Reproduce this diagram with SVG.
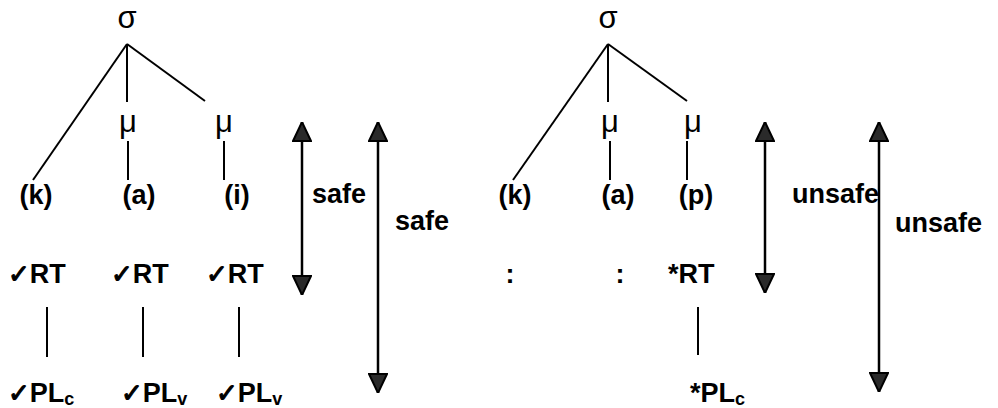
<svg xmlns="http://www.w3.org/2000/svg" width="998" height="408" viewBox="0 0 998 408">
<style>
  .t { font-family: "Liberation Sans", "DejaVu Sans", Arial, sans-serif; font-size: 27px; font-weight: bold; fill: #000; }
  .g { font-family: "Liberation Sans", "DejaVu Sans", Arial, sans-serif; font-size: 31px; font-weight: normal; fill: #000; }
  .c { font-family: "DejaVu Sans", sans-serif; font-size: 26px; font-weight: bold; stroke: #000; stroke-width: 1.2; }
  .sub { font-size: 18px; }
  .m { text-anchor: middle; }
  .ln { stroke: #000; stroke-width: 2; fill: none; }
  .ar { stroke: #000; stroke-width: 2.5; fill: none; marker-start: url(#tri); marker-end: url(#tri); }
</style>
<defs>
  <marker id="tri" viewBox="0 0 20 20" refX="20" refY="10" markerWidth="20" markerHeight="20" markerUnits="userSpaceOnUse" orient="auto-start-reverse">
    <path d="M1,1 L20,10 L1,19 Z" fill="#2a2a2a" stroke="#000" stroke-width="2"/>
  </marker>
</defs>
<rect width="998" height="408" fill="#fff"/>

<g id="connectors">
  <line class="ln" x1="127" y1="44" x2="33" y2="180"/>
  <line class="ln" x1="127" y1="44" x2="127" y2="102"/>
  <line class="ln" x1="127" y1="44" x2="205" y2="101"/>
  <line class="ln" x1="128" y1="141" x2="128" y2="180"/>
  <line class="ln" x1="224" y1="141" x2="224" y2="180"/>
  <line class="ln" x1="47" y1="307" x2="47" y2="357"/>
  <line class="ln" x1="143" y1="307" x2="143" y2="357"/>
  <line class="ln" x1="239" y1="307" x2="239" y2="357"/>
  <line class="ar" x1="302" y1="122" x2="302" y2="295"/>
  <line class="ar" x1="378" y1="122" x2="378" y2="393"/>

  <line class="ln" x1="608" y1="44" x2="513" y2="180"/>
  <line class="ln" x1="608" y1="44" x2="608" y2="102"/>
  <line class="ln" x1="608" y1="44" x2="687" y2="101"/>
  <line class="ln" x1="610" y1="141" x2="610" y2="180"/>
  <line class="ln" x1="687" y1="141" x2="687" y2="180"/>
  <line class="ln" x1="698" y1="307" x2="698" y2="355"/>
  <line class="ar" x1="765" y1="122" x2="765" y2="293"/>
  <line class="ar" x1="879" y1="122" x2="879" y2="392"/>
</g>

<g id="left-sigma"><text class="g m" x="127" y="28">σ</text></g>
<g id="left-mu1"><text class="g m" x="128" y="132">μ</text></g>
<g id="left-mu2"><text class="g m" x="224" y="132">μ</text></g>
<g id="left-k"><text class="t m" x="36" y="204">(k)</text></g>
<g id="left-a"><text class="t m" x="139" y="204">(a)</text></g>
<g id="left-i"><text class="t m" x="237" y="204">(i)</text></g>
<g id="left-rt1"><text class="t" x="8" y="283"><tspan class="c">✓</tspan>RT</text></g>
<g id="left-rt2"><text class="t" x="111" y="283"><tspan class="c">✓</tspan>RT</text></g>
<g id="left-rt3"><text class="t" x="206" y="283"><tspan class="c">✓</tspan>RT</text></g>
<g id="left-pl1"><text class="t" x="8" y="402"><tspan class="c">✓</tspan>PL<tspan class="sub" dy="3">c</tspan></text></g>
<g id="left-pl2"><text class="t" x="121" y="402"><tspan class="c">✓</tspan>PL<tspan class="sub" dy="3">v</tspan></text></g>
<g id="left-pl3"><text class="t" x="216" y="402"><tspan class="c">✓</tspan>PL<tspan class="sub" dy="3">v</tspan></text></g>
<g id="left-safe1"><text class="t" x="312" y="203">safe</text></g>
<g id="left-safe2"><text class="t" x="395" y="230">safe</text></g>

<g id="right-sigma"><text class="g m" x="608" y="28">σ</text></g>
<g id="right-mu1"><text class="g m" x="610" y="132">μ</text></g>
<g id="right-mu2"><text class="g m" x="693" y="132">μ</text></g>
<g id="right-k"><text class="t m" x="515" y="204">(k)</text></g>
<g id="right-a"><text class="t m" x="618" y="204">(a)</text></g>
<g id="right-p"><text class="t m" x="696" y="204">(p)</text></g>
<g id="right-colon1"><text class="t m" x="510" y="283">:</text></g>
<g id="right-colon2"><text class="t m" x="620" y="283">:</text></g>
<g id="right-rt"><text class="t" x="668" y="283">*RT</text></g>
<g id="right-pl"><text class="t" x="690" y="402">*PL<tspan class="sub" dy="3">c</tspan></text></g>
<g id="right-unsafe1"><text class="t" x="792" y="203">unsafe</text></g>
<g id="right-unsafe2"><text class="t" x="895" y="232">unsafe</text></g>
</svg>
